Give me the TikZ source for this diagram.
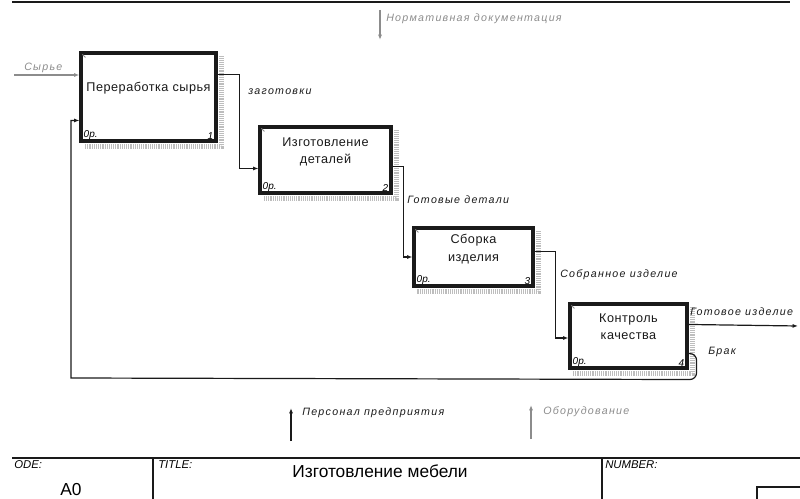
\documentclass[tikz,border=0pt]{standalone}
\usepackage{fontspec}
\setmainfont{Liberation Sans}
\newfontfamily\boxfont{Liberation Sans}[LetterSpace=4]
\newfontfamily\arrfont{Liberation Sans}[LetterSpace=12]
\usetikzlibrary{arrows.meta,calc,backgrounds}
\definecolor{idefdark}{HTML}{1A1A1A}
\definecolor{idefgray}{HTML}{8C8C8C}
\definecolor{idefshade}{HTML}{BDBDBD}
\tikzset{
  func/.style={draw=idefdark,line width=2.3pt,fill=white,inner sep=0pt},
  ftext/.style={align=center,font=\boxfont\fontsize{9.5}{13}\selectfont,text=idefdark,inner sep=0pt},
  cost/.style={font=\itshape\fontsize{7.5}{9}\selectfont,inner sep=0pt},
  shad/.style={idefshade,line width=3.2pt,dash pattern=on 0.7pt off 0.7pt},
  ar/.style={-{Latex[length=4pt,width=3pt]},draw=idefdark,line width=0.9pt},
  lbl/.style={font=\arrfont\itshape\fontsize{8}{9}\selectfont,text=idefdark,anchor=west,inner sep=0pt},
  frame/.style={draw=idefdark,line width=0.9pt},
  tbl/.style={font=\itshape\fontsize{8.5}{10}\selectfont,anchor=west,inner sep=0pt},
}
\begin{document}
\begin{tikzpicture}[x=0.75pt,y=-0.75pt]
  \useasboundingbox (0,0) rectangle (800,499);
  % functional blocks
  \node[func,minimum width=101.25pt,minimum height=66pt] (raw) at (148.5,97) {};
  \node[func,minimum width=98.25pt,minimum height=49.5pt] (parts) at (325.5,160) {};
  \node[func,minimum width=89.25pt,minimum height=43.5pt] (assy) at (473.5,257) {};
  \node[func,minimum width=87.75pt,minimum height=48pt] (qc) at (628.5,336) {};
  \node[ftext] (rawt) at ($(raw.center)+(0,-9)$) {Переработка сырья};
  \node[ftext] (partst) at ($(parts.center)+(0,-8)$) {Изготовление\\деталей};
  \node[ftext] (assyt) at ($(assy.center)+(0,-8)$) {Сборка\\изделия};
  \node[ftext] (qct) at ($(qc.center)+(0,-9)$) {Контроль\\качества};
  \foreach \b/\n in {raw/1,parts/2,assy/3,qc/4} {
    \begin{scope}[on background layer]
      \draw[shad] ($(\b.north east)+(4,5)$) -- ($(\b.south east)+(4,4)$) -- ($(\b.south west)+(5,4)$);
    \end{scope}
    \node[cost,anchor=south west] (\b c) at ($(\b.south west)+(4,-3)$) {0р.};
    \node[cost,anchor=south east] (\b n) at ($(\b.south east)+(-4,-3)$) {\n};
    \draw[idefgray,line width=0.6pt] ($(\b.north west)+(3,3)$) -- ++(3,3);
  }
  % arrows between blocks
  \coordinate (src) at (14,75);
  \draw[ar,draw=idefgray] (src) -- (src -| raw.west);
  \draw[ar] ($(raw.north east)+(0,23)$) -- ++(22,0) |- ($(parts.north west)+(0,43)$);
  \draw[ar] ($(parts.north east)+(0,41)$) -- ++(11,0) |- (assy.west);
  \draw[ar] ($(assy.north east)+(0,25)$) -- ++(21,0) |- ($(qc.west)+(0,2)$);
  \coordinate (out) at (798,326);
  \draw[ar] ($(qc.north east)+(0,22)$) -- (out);
  \coordinate (back) at (71,378);
  \draw[ar] ($(qc.south east)+(0,-16)$) [rounded corners=5pt] -- ++(8,0) -- ++(0,26) [sharp corners] -- (back) |- ($(raw.north west)+(0,69)$);
  \coordinate (ctrl) at (380,10);
  \draw[ar,draw=idefgray] (ctrl) -- ++(0,30);
  \coordinate (mech1) at (291,441);
  \draw[ar] (mech1) -- ++(0,-33);
  \coordinate (mech2) at (531,439);
  \draw[ar,draw=idefgray] (mech2) -- ++(0,-34);
  % arrow labels
  \node[lbl,text=idefgray] (l1) at (24,68) {Сырье};
  \node[lbl] (l2) at (248,92) {заготовки};
  \node[lbl] (l3) at (407,200) {Готовые детали};
  \node[lbl] (l4) at (560,275) {Собранное изделие};
  \node[lbl] (l5) at (690,312) {Готовое изделие};
  \node[lbl] (l6) at (708,352) {Брак};
  \node[lbl,text=idefgray] (l7) at (386,19) {Нормативная документация};
  \node[lbl] (l8) at (302,413) {Персонал предприятия};
  \node[lbl,text=idefgray] (l9) at (543,412) {Оборудование};
  % frame
  \draw[frame,line width=1.4pt] (12,2) -- (790,2);
  \draw[frame] (12,458) -- (800,458);
  \draw[frame] (153,458) -- (153,499);
  \draw[frame] (602,458) -- (602,499);
  \draw[frame] (757,499) |- (800,487);
  \node[tbl] (node) at (14,465) {ODE:};
  \node[tbl] (title) at (158,465) {TITLE:};
  \node[tbl] (number) at (605,465) {NUMBER:};
  \node[font=\fontsize{13}{15}\selectfont,inner sep=0pt] (a0) at (71,490) {A0};
  \node[font=\fontsize{13}{15}\selectfont,inner sep=0pt] (name) at (380,471) {Изготовление мебели};
\end{tikzpicture}
\end{document}
